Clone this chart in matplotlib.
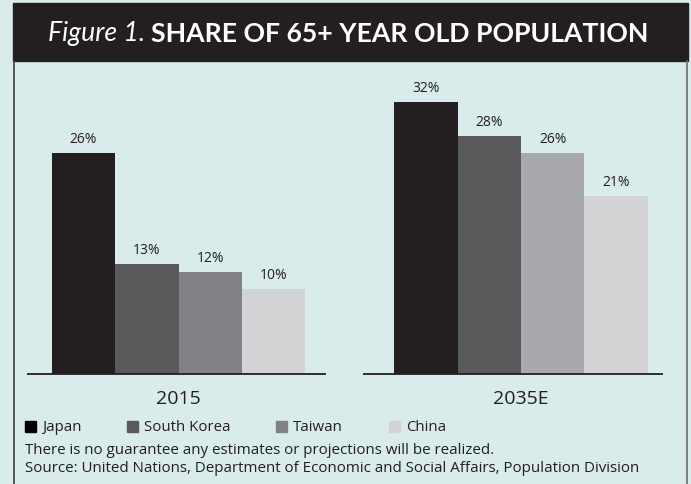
import matplotlib
matplotlib.use("Agg")
import matplotlib.pyplot as plt
from matplotlib.patches import Rectangle
from matplotlib.lines import Line2D

plt.rcParams['font.family'] = ['Open Sans', 'DejaVu Sans']

years = ['2015', '2035E']
countries = ['Japan', 'South Korea', 'Taiwan', 'China']
share_2015 = [26, 13, 12, 10]
share_2035 = [32, 28, 26, 21]

colors_2015 = ['#231f20', '#58595b', '#808285', '#d1d3d4']
colors_2035 = ['#231f20', '#58595b', '#a7a9ac', '#d1d3d4']
legend_colors = ['#000000', '#58595b', '#808285', '#d1d3d4']

BG = '#d9ebea'
DARK = '#231f20'
W, H = 691, 485

fig = plt.figure(figsize=(W / 100, H / 100), dpi=100, facecolor=BG)

def fx(px):
    return px / W

def fy(py):
    return 1 - py / H

# title bar and frame
fig.patches.append(Rectangle((fx(13.5), fy(62)), fx(688 - 13.5), (62 - 4) / H,
                             transform=fig.transFigure, color=DARK, zorder=0))
fig.lines.append(Line2D([fx(14), fx(14)], [fy(62), 0], transform=fig.transFigure,
                        color='#414042', lw=1.2))
fig.lines.append(Line2D([fx(687), fx(687)], [fy(62), 0], transform=fig.transFigure,
                        color='#6d6e71', lw=1.2))

t1 = fig.text(fx(48), fy(34), 'Figure 1.', color='white', fontsize=19.2,
              family='Lato', style='italic', va='center', ha='left')
fig.canvas.draw()
bb = t1.get_window_extent()
fig.text(bb.x1 / W + fx(6), fy(34), 'SHARE OF 65+ YEAR OLD POPULATION', color='white',
         fontsize=19.2, family='Lato', fontweight='bold', va='center', ha='left')

# bars: one unit = one bar width (~63.3 px)
bw_px = 63.3
left_px, right_px = 27, 663
ax = fig.add_axes([fx(left_px), (H - 375) / H, fx(right_px - left_px), 297.5 / H])
ax.set_facecolor('none')
ax.set_xlim(0, (right_px - left_px) / bw_px)
ax.set_ylim(0, 35)
ax.axis('off')

centers = [(178.5 - left_px) / bw_px, (521 - left_px) / bw_px]
spans = [(0, (326 - left_px) / bw_px), ((363 - left_px) / bw_px, (right_px - left_px) / bw_px)]

for c, vals, cols, span, yr in zip(centers, [share_2015, share_2035],
                                   [colors_2015, colors_2035], spans, years):
    xs = [c - 1.5 + i for i in range(len(vals))]
    bars = ax.bar(xs, vals, width=1.0, color=cols, linewidth=0)
    for b, v in zip(bars, vals):
        ax.annotate(f'{v}%', (b.get_x() + 0.5, v), xytext=(0, 5),
                    textcoords='offset points', ha='center', va='bottom',
                    fontsize=10, color=DARK)
    ax.plot(span, [0, 0], color=DARK, lw=1.3, solid_capstyle='butt', clip_on=False)
    ax.text(c, -2.8, yr, ha='center', va='center', fontsize=14, color=DARK)

# legend
sq_x = [25, 127, 276, 389]
for x, name, col in zip(sq_x, countries, legend_colors):
    fig.patches.append(Rectangle((fx(x), fy(433)), fx(11), 11 / H,
                                 transform=fig.transFigure, color=col))
    fig.text(fx(x + 17), fy(427.5), name, ha='left', va='center', fontsize=10.8, color=DARK)

fig.text(fx(25), fy(451), 'There is no guarantee any estimates or projections will be realized.',
         ha='left', va='center', fontsize=10.9, color=DARK)
fig.text(fx(25), fy(469), 'Source: United Nations, Department of Economic and Social Affairs, Population Division',
         ha='left', va='center', fontsize=10.9, color=DARK)

fig.savefig('out.png', dpi=100, facecolor=BG)
